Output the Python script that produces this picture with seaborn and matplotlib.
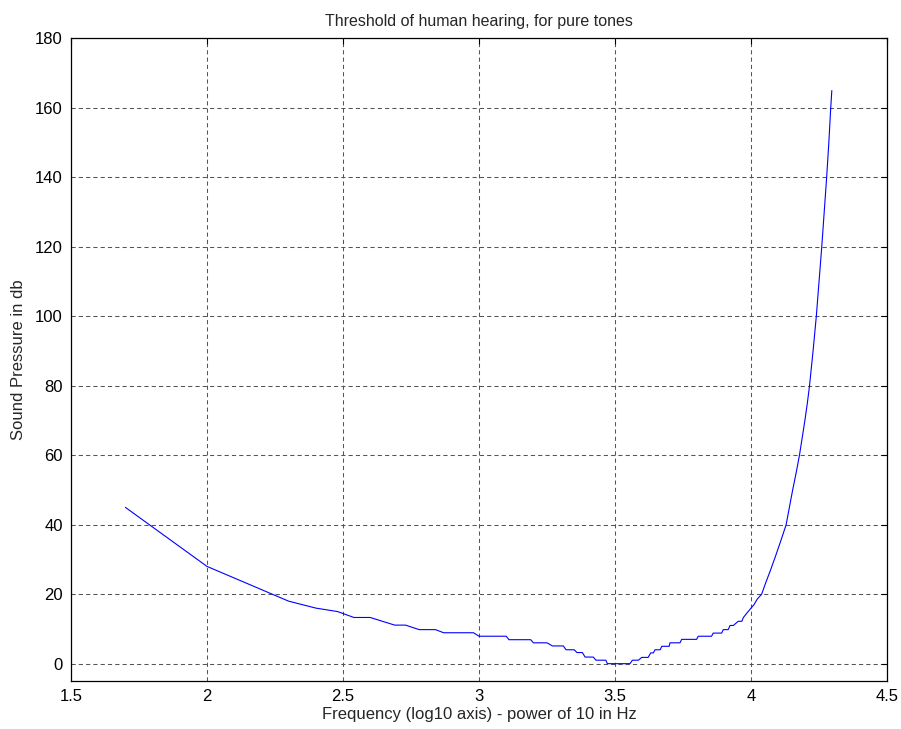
"""Threshold of human hearing for pure tones (MATLAB-style figure)."""

import matplotlib
matplotlib.use("Agg")
import matplotlib.pyplot as plt
import seaborn as sns
import pandas as pd

# log10 of frequency in Hz, and threshold sound pressure in dB
log_freq = [
    1.70, 2.00, 2.30, 2.40, 2.48, 2.54, 2.60, 2.69, 2.73, 2.78, 2.84, 2.87,
    2.98, 3.00, 3.10, 3.11, 3.19, 3.20, 3.25, 3.27, 3.31, 3.32, 3.35, 3.36,
    3.38, 3.39, 3.42, 3.43, 3.466, 3.472, 3.555, 3.564, 3.586, 3.598, 3.622,
    3.631, 3.641, 3.647, 3.666, 3.672, 3.699, 3.702, 3.739, 3.745, 3.800,
    3.806, 3.855, 3.861, 3.892, 3.898, 3.916, 3.923, 3.935, 3.953, 3.966,
    3.972, 3.984, 4.000, 4.011, 4.023, 4.039, 4.055, 4.072, 4.088, 4.110,
    4.129, 4.141, 4.153, 4.166, 4.178, 4.188, 4.198, 4.207, 4.215, 4.228,
    4.240, 4.250, 4.260, 4.269, 4.278, 4.286, 4.293, 4.297,
]
spl_db = [
    45.0, 28.0, 18.0, 16.0, 15.0, 13.3, 13.3, 11.1, 11.1, 9.8, 9.8, 8.9,
    8.9, 7.9, 7.9, 6.9, 6.9, 6.0, 6.0, 5.1, 5.1, 4.0, 4.0, 3.2,
    3.2, 1.9, 1.9, 1.0, 1.0, 0.0, 0.0, 1.0, 1.0, 1.8, 1.8,
    3.1, 3.1, 4.0, 4.0, 5.0, 5.0, 6.0, 6.0, 7.0, 7.0,
    7.9, 7.9, 8.8, 8.8, 9.8, 9.8, 11.0, 11.0, 12.2, 12.2,
    13.3, 14.5, 16.0, 17.0, 18.6, 20.0, 23.5, 27.0, 30.5, 35.5,
    40.0, 45.0, 50.0, 55.0, 60.0, 65.0, 70.0, 75.0, 80.0, 90.0,
    100.0, 110.0, 120.0, 130.0, 140.0, 150.0, 160.0, 165.0,
]

x_ticks = [1.5, 2, 2.5, 3, 3.5, 4, 4.5]
y_ticks = [0, 20, 40, 60, 80, 100, 120, 140, 160, 180]

sns.set_style("white")
plt.rcParams["font.family"] = ["Liberation Sans", "DejaVu Sans"]

df = pd.DataFrame({"log_freq": log_freq, "spl": spl_db})

fig = plt.figure(figsize=(9.01, 7.29), dpi=100)
ax = fig.add_axes([0.0788, 0.0658, 0.9057, 0.8814])

sns.lineplot(data=df, x="log_freq", y="spl", ax=ax, color="#0000ff",
             linewidth=0.8, estimator=None, sort=False)

ax.set_xlim(1.5, 4.5)
ax.set_ylim(-5, 180)
ax.set_xticks(x_ticks)
ax.set_xticklabels([f"{t:g}" for t in x_ticks])
ax.set_yticks(y_ticks)

# MATLAB-like dashed grid
ax.grid(True, color="#555555", linestyle=(0, (4, 3)), linewidth=0.75)
ax.set_axisbelow(True)

for spine in ax.spines.values():
    spine.set_visible(True)
    spine.set_color("black")
    spine.set_linewidth(0.9)

ax.tick_params(direction="in", length=4, width=0.8, top=True, right=True,
               labelsize=12, pad=6, colors="black")

ax.set_title("Threshold of human hearing, for pure tones", fontsize=11.5, pad=9)
ax.set_xlabel("Frequency (log10 axis) - power of 10 in Hz", fontsize=12, labelpad=2)
ax.set_ylabel("Sound Pressure in db", fontsize=12, labelpad=6)

fig.savefig("out.png", dpi=100)
